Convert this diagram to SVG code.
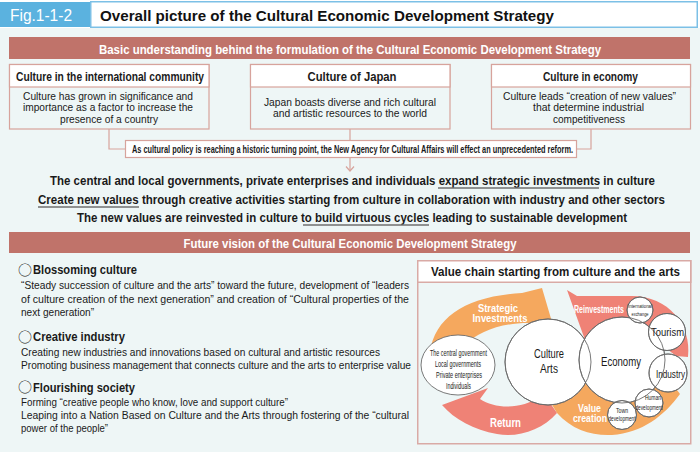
<svg xmlns="http://www.w3.org/2000/svg" width="700" height="452" viewBox="0 0 700 452">
<style>
.cb{font-family:"Liberation Sans Narrow","Liberation Sans",Arial,sans-serif;font-weight:bold;}
.cr{font-family:"Liberation Sans Narrow","Liberation Sans",Arial,sans-serif;}
.mk{font-family:"Noto Sans CJK JP","DejaVu Sans",sans-serif;font-size:14px;fill:#1a1a1a}
.w{fill:#fff}
.k{fill:#1a1a1a}
.banner{fill:#c0736a}
.box{fill:#eef6f6;stroke:#d7a39c;stroke-width:1.2}
.hd{fill:#fff;stroke:#d7a39c;stroke-width:1.2}
.conn{fill:none;stroke:#d7a39c;stroke-width:1.2}
.ul{stroke:#6f6f6f;stroke-width:1.3}
.circ{fill:#fff;stroke:#6a6a6a;stroke-width:0.9}
.ol{fill:none;stroke:#6a6a6a;stroke-width:0.9}
.or{fill:#f5a85e}
.rd{fill:#ef8276}
</style>
<rect x="0" y="0" width="700" height="452" fill="#fff"/>
<rect x="0" y="28" width="700" height="424" fill="#eef6f6"/>

<g id="header">
<rect x="0" y="2" width="90" height="25" fill="#5bb2df"/>
<rect x="90.75" y="1.75" width="606.5" height="25.5" fill="#fff" stroke="#7cc0e6" stroke-width="1.5"/>
<text x="10" y="21" font-family="Liberation Sans,Arial,sans-serif" font-size="16" fill="#fff" textLength="62" lengthAdjust="spacingAndGlyphs">Fig.1-1-2</text>
<text x="100" y="20.5" font-family="Liberation Sans,Arial,sans-serif" font-weight="bold" font-size="15.5" fill="#111" textLength="454" lengthAdjust="spacingAndGlyphs">Overall picture of the Cultural Economic Development Strategy</text>
</g>

<g id="banner-basic">
<rect x="9" y="37" width="681" height="22" class="banner"/>
<text x="350" y="53.5" text-anchor="middle" class="cb w" font-size="12.5" textLength="502" lengthAdjust="spacingAndGlyphs">Basic understanding behind the formulation of the Cultural Economic Development Strategy</text>
</g>

<g id="connectors">
<polyline class="conn" points="109,129 109,149 125,149"/>
<polyline class="conn" points="591,129 591,149 577,149"/>
<line class="conn" x1="350" y1="129" x2="350" y2="140"/>
<line class="conn" x1="350" y1="158" x2="350" y2="171"/>
<polyline class="conn" points="346,166.5 350,171 354,166.5"/>
</g>

<g id="box-international">
<rect x="9.5" y="64.5" width="199.5" height="64.5" class="box"/>
<rect x="9.5" y="64.5" width="199.5" height="22.5" class="hd"/>
<text x="110" y="80.5" text-anchor="middle" class="cb k" font-size="12.5" textLength="188" lengthAdjust="spacingAndGlyphs">Culture in the international community</text>
<text x="108" y="99.5" text-anchor="middle" class="cr k" font-size="11" textLength="170" lengthAdjust="spacingAndGlyphs">Culture has grown in significance and</text>
<text x="108" y="111" text-anchor="middle" class="cr k" font-size="11" textLength="170" lengthAdjust="spacingAndGlyphs">importance as a factor to increase the</text>
<text x="109" y="123" text-anchor="middle" class="cr k" font-size="11" textLength="98" lengthAdjust="spacingAndGlyphs">presence of a country</text>
</g>

<g id="box-japan">
<rect x="250.5" y="64.5" width="199.5" height="64.5" class="box"/>
<rect x="250.5" y="64.5" width="199.5" height="22.5" class="hd"/>
<text x="352" y="80.5" text-anchor="middle" class="cb k" font-size="12.5" textLength="89" lengthAdjust="spacingAndGlyphs">Culture of Japan</text>
<text x="350" y="105.5" text-anchor="middle" class="cr k" font-size="11" textLength="172" lengthAdjust="spacingAndGlyphs">Japan boasts diverse and rich cultural</text>
<text x="350" y="117" text-anchor="middle" class="cr k" font-size="11" textLength="154" lengthAdjust="spacingAndGlyphs">and artistic resources to the world</text>
</g>

<g id="box-economy">
<rect x="491.5" y="64.5" width="199" height="64.5" class="box"/>
<rect x="491.5" y="64.5" width="199" height="22.5" class="hd"/>
<text x="590.5" y="80.5" text-anchor="middle" class="cb k" font-size="12.5" textLength="95" lengthAdjust="spacingAndGlyphs">Culture in economy</text>
<text x="589.5" y="99.5" text-anchor="middle" class="cr k" font-size="11" textLength="173" lengthAdjust="spacingAndGlyphs">Culture leads “creation of new values”</text>
<text x="588.5" y="111" text-anchor="middle" class="cr k" font-size="11" textLength="111" lengthAdjust="spacingAndGlyphs">that determine industrial</text>
<text x="589" y="123" text-anchor="middle" class="cr k" font-size="11" textLength="72" lengthAdjust="spacingAndGlyphs">competitiveness</text>
</g>

<g id="callout">
<rect x="125.5" y="140.5" width="451" height="17" class="hd"/>
<text x="132" y="153" class="cb k" font-size="11" textLength="441" lengthAdjust="spacingAndGlyphs">As cultural policy is reaching a historic turning point, the New Agency for Cultural Affairs will effect an unprecedented reform.</text>
</g>

<g id="statements">
<text x="50" y="185" class="cb k" font-size="13.5" textLength="605" lengthAdjust="spacingAndGlyphs">The central and local governments, private enterprises and individuals expand strategic investments in culture</text>
<line class="ul" x1="438" y1="188" x2="599" y2="188"/>
<text x="38" y="204" class="cb k" font-size="13.5" textLength="627" lengthAdjust="spacingAndGlyphs">Create new values through creative activities starting from culture in collaboration with industry and other sectors</text>
<line class="ul" x1="38" y1="207" x2="139" y2="207"/>
<text x="77" y="222" class="cb k" font-size="13.5" textLength="550" lengthAdjust="spacingAndGlyphs">The new values are reinvested in culture to build virtuous cycles leading to sustainable development</text>
<line class="ul" x1="303" y1="225" x2="429" y2="225"/>
</g>

<g id="banner-future">
<rect x="9" y="232" width="681" height="21" class="banner"/>
<text x="350" y="247.5" text-anchor="middle" class="cb w" font-size="12.5" textLength="333" lengthAdjust="spacingAndGlyphs">Future vision of the Cultural Economic Development Strategy</text>
</g>

<g id="vision-blossoming">
<text x="18" y="274.5" class="mk">○</text>
<text x="33" y="274" class="cb k" font-size="13.5" textLength="104" lengthAdjust="spacingAndGlyphs">Blossoming culture</text>
<text x="21" y="289" class="cr k" font-size="11" textLength="388" lengthAdjust="spacingAndGlyphs">“Steady succession of culture and the arts” toward the future, development of “leaders</text>
<text x="21" y="302.5" class="cr k" font-size="11" textLength="388" lengthAdjust="spacingAndGlyphs">of culture creation of the next generation” and creation of “Cultural properties of the</text>
<text x="21" y="316" class="cr k" font-size="11" textLength="73" lengthAdjust="spacingAndGlyphs">next generation”</text>
</g>

<g id="vision-creative">
<text x="18" y="341.5" class="mk">○</text>
<text x="33" y="341" class="cb k" font-size="13.5" textLength="92" lengthAdjust="spacingAndGlyphs">Creative industry</text>
<text x="21" y="355.5" class="cr k" font-size="11" textLength="359" lengthAdjust="spacingAndGlyphs">Creating new industries and innovations based on cultural and artistic resources</text>
<text x="21" y="368.5" class="cr k" font-size="11" textLength="390" lengthAdjust="spacingAndGlyphs">Promoting business management that connects culture and the arts to enterprise value</text>
</g>

<g id="vision-flourishing">
<text x="18" y="392" class="mk">○</text>
<text x="33" y="391.5" class="cb k" font-size="13.5" textLength="102" lengthAdjust="spacingAndGlyphs">Flourishing society</text>
<text x="21" y="405.5" class="cr k" font-size="11" textLength="267" lengthAdjust="spacingAndGlyphs">Forming “creative people who know, love and support culture”</text>
<text x="21" y="418.5" class="cr k" font-size="11" textLength="388" lengthAdjust="spacingAndGlyphs">Leaping into a Nation Based on Culture and the Arts through fostering of the “cultural</text>
<text x="21" y="431.5" class="cr k" font-size="11" textLength="87" lengthAdjust="spacingAndGlyphs">power of the people”</text>
</g>

<g id="value-chain-frame">
<rect x="417.75" y="260.75" width="273" height="183" fill="#eef6f6" stroke="#d9aaa5" stroke-width="1.5"/>
<rect x="417.75" y="260.75" width="273" height="21.5" fill="#fff" stroke="#d9aaa5" stroke-width="1.5"/>
<text x="555.5" y="276" text-anchor="middle" class="cb k" font-size="13.5" textLength="249" lengthAdjust="spacingAndGlyphs">Value chain starting from culture and the arts</text>
</g>

<g id="cycle-arrows">
<path class="or" d="M 430,352 C 435,316 468,296 522,293 L 542,288 L 552,322 L 528,323 C 500,323 478,332 465,345 Z"/>
<path class="or" d="M 548,398 L 557,413 C 572,430 592,436 612,435 C 642,433 664,416 680,394 L 668,378 C 650,386 620,385 585,376 Z"/>
<path class="rd" d="M 548,400 L 557,413 C 542,430 518,438 497,434 C 474,430 454,419 442,405 L 488,388 L 480,399 C 495,409 522,410 540,396 Z"/>
<path class="rd" d="M 577,296 L 567,290 L 585,340 L 600,326 C 625,318 650,325 662,345 L 676,356 L 688,357 C 692,325 668,296 632,296 Z"/>
<text x="498" y="312" text-anchor="middle" class="cb w" font-size="11.5" textLength="40" lengthAdjust="spacingAndGlyphs">Strategic</text>
<text x="500" y="322" text-anchor="middle" class="cb w" font-size="11.5" textLength="55" lengthAdjust="spacingAndGlyphs">Investments</text>
<text x="599" y="312.5" text-anchor="middle" class="cb w" font-size="11.5" textLength="50" lengthAdjust="spacingAndGlyphs">Reinvestments</text>
<text x="505.5" y="426.5" text-anchor="middle" class="cb w" font-size="12" textLength="31" lengthAdjust="spacingAndGlyphs">Return</text>
<text x="589.5" y="411.5" text-anchor="middle" class="cb w" font-size="11" textLength="23" lengthAdjust="spacingAndGlyphs">Value</text>
<text x="590" y="422" text-anchor="middle" class="cb w" font-size="11" textLength="34" lengthAdjust="spacingAndGlyphs">creation</text>
</g>

<g id="node-actors">
<ellipse cx="458" cy="365" rx="37" ry="30" class="circ"/>
<text x="458.5" y="356" text-anchor="middle" class="cr k" font-size="9" textLength="57" lengthAdjust="spacingAndGlyphs">The central government</text>
<text x="458" y="367" text-anchor="middle" class="cr k" font-size="9" textLength="46" lengthAdjust="spacingAndGlyphs">Local governments</text>
<text x="459" y="378" text-anchor="middle" class="cr k" font-size="9" textLength="46" lengthAdjust="spacingAndGlyphs">Private enterprises</text>
<text x="458.5" y="389" text-anchor="middle" class="cr k" font-size="9" textLength="25" lengthAdjust="spacingAndGlyphs">Individuals</text>
</g>
<g id="node-culture">
<circle cx="548" cy="362" r="43" class="circ"/>
</g>
<g id="node-economy">
<circle cx="622" cy="360" r="43" class="circ"/>
</g>
<g id="node-international">
<circle cx="640" cy="310" r="13" class="circ"/>
</g>
<g id="node-tourism">
<circle cx="667" cy="332" r="18.5" class="circ"/>
</g>
<g id="node-industry">
<circle cx="668" cy="373" r="19" class="circ"/>
</g>
<g id="node-human">
<circle cx="649" cy="403" r="14" class="circ"/>
</g>
<g id="node-town">
<circle cx="622" cy="415" r="14.5" class="circ"/>
</g>

<g id="outlines">
<circle cx="548" cy="362" r="43" class="ol"/>
<circle cx="622" cy="360" r="43" class="ol"/>
<circle cx="640" cy="310" r="13" class="ol"/>
<circle cx="667" cy="332" r="18.5" class="ol"/>
<circle cx="668" cy="373" r="19" class="ol"/>
<circle cx="649" cy="403" r="14" class="ol"/>
<circle cx="622" cy="415" r="14.5" class="ol"/>
</g>

<g id="node-labels">
<text x="549" y="358" text-anchor="middle" class="cr k" font-size="12.5" textLength="30" lengthAdjust="spacingAndGlyphs">Culture</text>
<text x="549" y="373" text-anchor="middle" class="cr k" font-size="12.5" textLength="18" lengthAdjust="spacingAndGlyphs">Arts</text>
<text x="621" y="365.5" text-anchor="middle" class="cr k" font-size="12.5" textLength="40" lengthAdjust="spacingAndGlyphs">Economy</text>
<text x="640" y="308" text-anchor="middle" class="cr k" font-size="6" textLength="24" lengthAdjust="spacingAndGlyphs">International</text>
<text x="640" y="315.5" text-anchor="middle" class="cr k" font-size="6" textLength="17" lengthAdjust="spacingAndGlyphs">exchange</text>
<text x="667.5" y="336" text-anchor="middle" class="cr k" font-size="11" textLength="33" lengthAdjust="spacingAndGlyphs">Tourism</text>
<text x="670.5" y="378" text-anchor="middle" class="cr k" font-size="11" textLength="29" lengthAdjust="spacingAndGlyphs">Industry</text>
<text x="653" y="400" text-anchor="middle" class="cr k" font-size="7" textLength="16" lengthAdjust="spacingAndGlyphs">Human</text>
<text x="649" y="409.5" text-anchor="middle" class="cr k" font-size="7" textLength="27" lengthAdjust="spacingAndGlyphs">development</text>
<text x="622" y="413" text-anchor="middle" class="cr k" font-size="7" textLength="12" lengthAdjust="spacingAndGlyphs">Town</text>
<text x="622" y="421" text-anchor="middle" class="cr k" font-size="7" textLength="27" lengthAdjust="spacingAndGlyphs">development</text>
</g>
</svg>
